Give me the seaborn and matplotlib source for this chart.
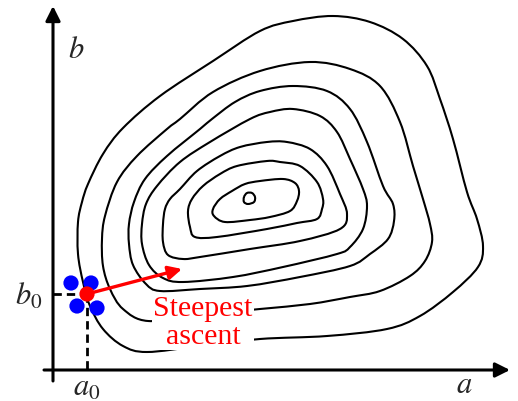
import numpy as np
import matplotlib
matplotlib.use("Agg")
import matplotlib.pyplot as plt
from matplotlib.path import Path
from matplotlib.patches import PathPatch
import seaborn as sns

# Contour outlines (pixel coordinates, y pointing down)
c1_x = [147, 123, 103, 90, 83, 78, 78, 82, 88, 103, 123, 160, 213, 260, 293, 333, 370, 403, 427, 440, 453, 467, 477, 483, 478, 453, 420, 387, 327, 260, 200]
c1_y = [353, 347, 330, 307, 283, 255, 223, 203, 185, 155, 129, 97, 62, 32, 22, 17, 23, 40, 67, 100, 140, 193, 220, 247, 268, 293, 317, 330, 337, 340, 347]

c2_x = [148, 123, 110, 103, 102, 105, 117, 137, 167, 180, 213, 260, 310, 350, 380, 400, 413, 423, 430, 432, 425, 410, 380, 350, 310, 260, 200]
c2_y = [322, 310, 290, 267, 240, 217, 183, 157, 130, 120, 93, 72, 63, 70, 87, 123, 167, 200, 225, 243, 262, 277, 292, 298, 305, 310, 316]

c3_x = [133, 129, 129, 134, 145, 167, 200, 212, 235, 260, 293, 327, 350, 367, 383, 393, 394, 388, 370, 350, 300, 247, 200, 160, 146]
c3_y = [266, 245, 225, 203, 180, 157, 130, 120, 103, 92, 87, 92, 110, 143, 187, 205, 222, 240, 255, 267, 278, 287, 290, 292, 285]

c4_x = [142, 142, 146, 157, 180, 210, 250, 270, 293, 320, 337, 350, 363, 367, 363, 350, 337, 283, 233, 183, 163, 149]
c4_y = [245, 225, 205, 187, 163, 143, 120, 113, 110, 117, 133, 160, 190, 207, 230, 248, 255, 268, 278, 283, 279, 266]

c5_x = [163, 165, 170, 180, 197, 220, 240, 267, 287, 310, 327, 340, 347, 340, 300, 250, 200, 183, 168, 163]
c5_y = [225, 210, 200, 190, 172, 157, 148, 143, 143, 150, 167, 195, 215, 230, 242, 250, 258, 260, 256, 243]

c6_x = [188, 192, 203, 220, 237, 267, 280, 300, 317, 323, 322, 317, 297, 267, 217, 195, 190]
c6_y = [212, 200, 187, 175, 167, 162, 163, 167, 183, 200, 210, 220, 224, 230, 238, 238, 228]

c7_x = [213, 220, 232, 245, 260, 283, 295, 299, 297, 290, 270, 250, 225, 214]
c7_y = [210, 200, 192, 185, 182, 180, 184, 192, 202, 212, 218, 221, 223, 217]

c8_x = [244, 247, 252, 255, 254, 248, 244]
c8_y = [198, 194, 194, 198, 203, 205, 203]

contours = [(c1_x, c1_y), (c2_x, c2_y), (c3_x, c3_y), (c4_x, c4_y),
            (c5_x, c5_y), (c6_x, c6_y), (c7_x, c7_y), (c8_x, c8_y)]

# Start point and the four probe points around it
a0, b0 = 87, 295
probe_x = [71, 91, 77, 97]
probe_y = [284, 284, 307, 309]
ascent_tip = (182, 270)


def closed_smooth_path(xs, ys):
    """Closed cubic Bezier path through the traced points."""
    pts = np.column_stack([xs, ys]).astype(float)
    n = len(pts)
    verts = [pts[0]]
    codes = [Path.MOVETO]
    for i in range(n):
        p0, p1, p2, p3 = pts[i - 1], pts[i], pts[(i + 1) % n], pts[(i + 2) % n]
        verts += [p1 + (p2 - p0) / 6, p2 - (p3 - p1) / 6, p2]
        codes += [Path.CURVE4] * 3
    return Path(verts, codes)


sns.set_theme(style="white")
plt.rcParams['mathtext.fontset'] = 'stix'
plt.rcParams['font.family'] = ['Liberation Serif', 'DejaVu Serif']

fig = plt.figure(figsize=(5.18, 4.02), dpi=100)
ax = fig.add_axes([0, 0, 1, 1])
ax.set_xlim(0, 518)
ax.set_ylim(402, 0)
ax.axis('off')

for xs, ys in contours:
    ax.add_patch(PathPatch(closed_smooth_path(xs, ys), fc='none', ec='black', lw=1.5, zorder=2))

# axes with arrows
ax.annotate('', xy=(510, 371), xytext=(44, 371),
            arrowprops=dict(arrowstyle='-|>', lw=2.2, color='black', mutation_scale=22, shrinkA=0, shrinkB=0))
ax.annotate('', xy=(53, 7), xytext=(53, 382),
            arrowprops=dict(arrowstyle='-|>', lw=2.2, color='black', mutation_scale=22, shrinkA=0, shrinkB=0))

# dashed guides to a0, b0
ax.plot([53, a0], [b0, b0], ls=(0, (3, 1.8)), color='black', lw=2, zorder=3)
ax.plot([a0, a0], [b0, 371], ls=(0, (3, 1.8)), color='black', lw=2, zorder=3)

ax.text(76, 50, '$b$', fontsize=22, ha='center', va='center')
ax.text(464, 386, '$a$', fontsize=22, ha='center', va='center')
ax.text(42, 297, '$b_0$', fontsize=22, ha='right', va='center')
ax.text(87, 388, '$a_0$', fontsize=22, ha='center', va='center')

# steepest ascent arrow
ax.annotate('', xy=ascent_tip, xytext=(a0, b0),
            arrowprops=dict(arrowstyle='-|>', lw=2.4, color='#ff0000', mutation_scale=20, shrinkA=0, shrinkB=0),
            zorder=5)
ax.text(203, 323, 'Steepest\nascent', fontsize=21.5, color='#ff0000', ha='center', va='center',
        linespacing=1.1, zorder=4,
        bbox=dict(fc='white', ec='none', pad=1))

sns.scatterplot(x=probe_x, y=probe_y, s=120, color='#0000ff', edgecolor='none', ax=ax, zorder=6)
sns.scatterplot(x=[a0], y=[b0], s=120, color='#ff0000', edgecolor='none', ax=ax, zorder=7)

fig.savefig('out.png', dpi=100)
